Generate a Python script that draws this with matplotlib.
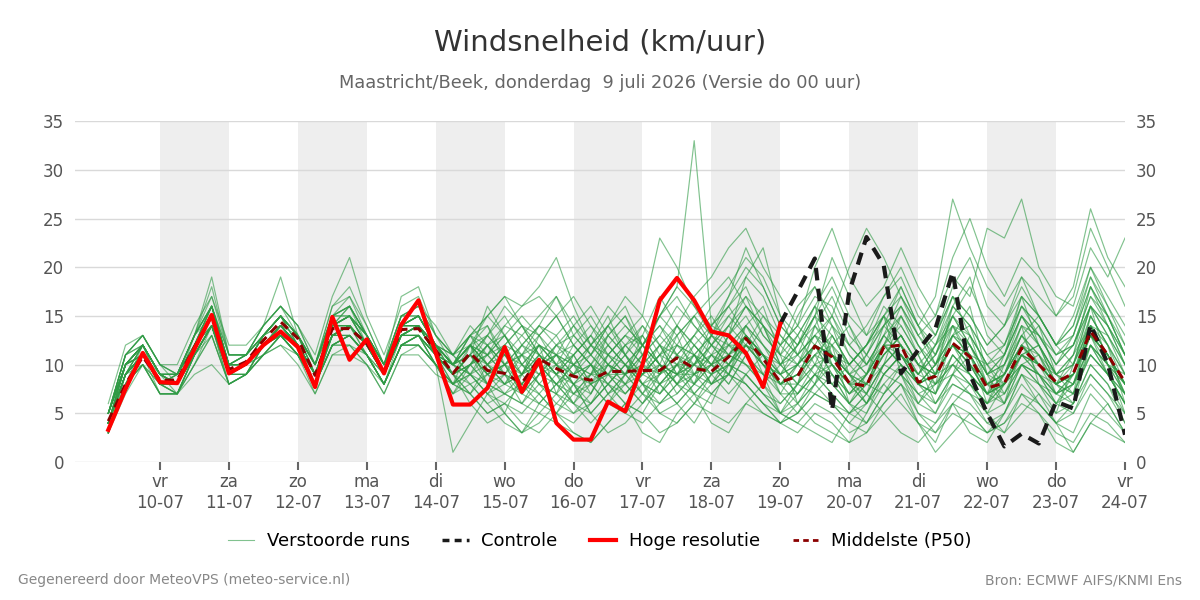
import numpy as np
import matplotlib
matplotlib.use("Agg")
import matplotlib.pyplot as plt
from matplotlib.lines import Line2D

# --- 1. Data (time in days since 9-07 00 UTC, 6-hourly from 9-07 06 UTC) ---
n_steps = 60
times = [0.25 + 0.25 * i for i in range(n_steps)]

day_ticks = [1, 2, 3, 4, 5, 6, 7, 8, 9, 10, 11, 12, 13, 14, 15]
day_labels = ["vr\n10-07", "za\n11-07", "zo\n12-07", "ma\n13-07", "di\n14-07",
              "wo\n15-07", "do\n16-07", "vr\n17-07", "za\n18-07", "zo\n19-07",
              "ma\n20-07", "di\n21-07", "wo\n22-07", "do\n23-07", "vr\n24-07"]
shaded_days = [1, 3, 5, 7, 9, 11, 13]

# high resolution run (first 40 steps, up to 19-07 00)
hires = [3.3, 7.5, 11.2, 8.2, 8.1, 11.6, 15.1, 9.1, 10.1, 12.0,
         13.4, 11.8, 7.7, 14.9, 10.5, 12.6, 9.1, 14.1, 16.6, 11.2,
         5.9, 5.9, 7.6, 11.8, 7.2, 10.5, 4.0, 2.3, 2.3, 6.2,
         5.2, 10.0, 16.6, 18.9, 16.6, 13.4, 13.0, 11.2, 7.7, 14.2]

# control run, shown from 19-07 00 onwards (steps 39..59)
control_start = 39
control = [14.2, 17.5, 20.9, 5.3, 17.5, 23.1, 20.2, 9.1, 11.5, 13.7,
           19.5, 9.0, 5.0, 1.6, 2.9, 1.9, 6.2, 5.5, 14.1, 10.1, 2.8]

# ensemble median
p50 = [4.2, 8.0, 10.8, 8.4, 8.4, 11.8, 15.0, 9.5, 10.3, 12.5,
       14.4, 12.7, 8.9, 13.7, 13.7, 12.2, 9.3, 13.6, 13.7, 11.5,
       9.1, 11.2, 9.4, 9.1, 8.1, 10.6, 9.6, 8.8, 8.4, 9.3,
       9.3, 9.4, 9.4, 10.7, 9.6, 9.3, 10.8, 12.7, 10.6, 8.2,
       8.8, 11.9, 10.8, 8.1, 7.8, 11.8, 12.0, 8.2, 8.8, 12.2,
       10.8, 7.6, 8.1, 11.7, 10.0, 8.2, 9.1, 13.4, 11.0, 8.2]

# perturbed members
members = [
    "5 10 12 9 8 13 16 10 11 13 15 13 10 15 16 13 10 14 15 12 10 12 8 7 6 9 12 10 7 11 13 11 8 9 12 10 13 15 12 9 7 10 14 9 6 10 15 11 7 13 16 9 6 12 14 9 7 15 12 6",
    "4 9 11 7 7 11 14 9 10 12 13 12 8 12 13 11 8 12 13 10 8 10 11 12 9 12 7 5 6 8 10 7 9 12 11 8 9 14 16 11 6 8 13 10 12 15 9 6 8 14 11 6 9 14 8 5 10 16 10 9",
    "3 8 10 8 9 13 18 11 11 14 16 14 10 16 18 14 10 15 16 14 11 13 10 8 11 14 13 10 12 15 11 8 7 10 8 13 16 18 14 10 12 15 10 7 9 13 17 14 10 12 9 7 11 15 13 10 12 17 15 11",
    "4 8 12 9 9 12 15 9 10 12 14 12 9 13 14 12 9 13 13 11 9 7 5 6 8 11 9 6 4 6 8 10 12 9 7 6 10 13 9 5 8 14 12 6 5 9 11 8 10 15 12 8 6 10 9 6 8 14 11 7",
    "5 11 13 10 8 12 14 10 10 11 13 11 8 12 12 11 8 12 12 10 7 9 8 10 12 10 8 10 11 9 7 9 12 14 12 10 8 11 9 7 10 12 9 6 8 11 13 10 6 9 13 10 7 11 12 8 6 12 10 5",
    "4 9 11 8 7 11 13 8 9 11 12 11 7 11 11 10 7 11 11 9 8 12 13 11 8 7 5 4 6 9 12 14 11 8 10 13 12 10 8 10 13 16 11 9 7 12 10 6 9 16 14 9 11 17 12 9 11 18 14 10",
    "6 12 13 10 10 14 17 12 12 14 16 14 11 17 21 15 11 16 17 13 10 11 9 8 7 10 11 9 10 12 10 8 9 11 13 15 12 14 11 8 9 11 10 8 11 14 12 9 11 14 10 8 9 13 11 7 9 15 12 8",
    "3 7 10 7 7 10 14 8 9 12 13 12 9 14 14 12 9 13 14 11 10 13 11 9 6 8 10 8 5 7 9 12 15 13 9 8 11 14 12 10 11 9 7 5 7 10 12 8 7 11 9 5 8 11 9 7 9 13 9 6",
    "5 10 12 9 9 12 16 10 11 13 15 13 10 15 15 13 10 14 15 12 9 6 4 5 9 12 10 7 9 13 15 12 10 9 8 11 14 17 13 11 10 12 15 11 9 14 16 12 9 10 8 6 10 13 10 8 11 14 13 9",
    "4 9 11 8 8 11 14 9 9 12 13 11 8 13 13 11 8 12 13 10 7 10 12 13 10 8 7 11 13 11 9 7 6 8 10 12 14 12 10 7 5 8 11 10 8 7 9 7 6 8 7 4 5 9 7 5 6 10 8 4",
    "4 10 12 8 8 12 15 9 10 13 15 12 9 14 14 12 9 14 14 12 11 14 12 10 11 13 15 12 10 8 6 5 8 10 7 9 10 13 11 8 10 13 15 12 10 13 11 8 10 13 11 8 10 14 13 10 12 16 13 10",
    "5 11 12 9 8 12 15 10 10 12 14 12 9 13 14 12 9 13 14 11 8 9 7 6 5 7 9 11 8 6 5 7 10 8 6 9 13 16 14 10 8 7 6 4 6 9 11 9 12 17 13 8 7 10 11 8 7 12 9 6",
    "3 8 11 8 7 11 14 9 10 12 14 12 8 13 14 11 8 13 13 11 9 11 10 12 14 13 10 8 7 10 12 13 10 7 9 11 10 9 7 6 8 10 9 7 9 12 14 11 8 10 12 9 8 12 10 7 8 13 11 7",
    "4 9 12 9 8 12 15 9 10 12 14 12 9 14 15 12 9 14 14 12 10 8 6 7 6 5 7 9 11 14 12 10 8 6 8 10 12 11 14 12 10 8 6 5 4 7 10 8 9 12 10 7 9 13 11 9 10 14 10 8",
    "5 10 11 8 9 13 16 11 11 13 15 13 10 15 16 13 10 15 15 12 10 12 14 11 9 10 8 6 8 11 9 11 13 16 14 12 10 12 10 9 11 13 11 9 10 13 15 12 10 14 12 9 11 16 14 11 13 18 15 12",
    "4 9 10 8 8 11 14 9 9 12 13 11 8 12 13 11 8 12 13 11 9 12 9 7 8 10 12 13 11 9 7 9 11 12 10 8 9 13 11 9 7 9 8 6 8 10 12 10 8 9 11 10 8 10 9 8 7 11 9 7",
    "3 9 11 9 7 11 14 9 10 11 13 11 8 12 13 11 8 12 12 10 8 10 8 5 3 6 8 6 9 12 14 12 9 11 13 11 9 12 15 12 14 12 10 8 6 9 11 9 11 15 12 9 10 15 12 8 10 14 12 9",
    "5 11 12 9 9 13 16 10 11 13 15 12 9 14 15 13 10 15 15 12 10 11 13 15 12 11 9 11 13 10 8 6 8 10 12 14 16 19 17 13 11 13 10 7 8 11 13 10 9 12 10 7 9 12 9 6 9 13 11 8",
    "4 9 11 8 8 12 15 9 10 12 14 12 8 13 14 12 9 13 14 11 9 7 10 12 11 9 8 7 9 8 6 8 10 9 11 13 11 10 8 6 8 11 13 10 12 15 12 8 7 10 8 6 8 11 10 9 8 12 10 8",
    "4 10 12 8 9 12 14 9 10 12 14 12 9 13 13 11 9 13 13 11 10 9 7 8 10 12 11 9 12 14 11 8 7 9 10 12 11 13 10 8 9 12 11 9 7 10 9 7 8 11 9 7 6 10 8 7 8 12 9 6",
    "5 11 13 10 9 13 17 11 11 14 19 13 10 15 17 13 10 15 16 13 11 13 15 17 14 12 10 13 15 12 10 12 15 18 16 14 17 20 18 14 12 16 19 15 13 17 20 16 13 18 21 16 14 19 15 12 14 20 16 12",
    "3 8 10 7 7 9 10 8 9 11 12 10 7 11 12 10 7 11 12 10 7 8 6 4 3 5 4 3 2 4 6 5 3 4 6 5 4 6 8 5 4 6 5 3 4 7 9 5 3 5 4 3 4 6 5 3 2 5 4 2",
    "4 10 12 9 8 12 16 10 10 13 15 13 9 14 16 12 9 14 15 12 9 11 16 13 10 9 11 14 12 10 9 13 17 14 11 10 13 16 14 11 15 18 14 11 9 12 16 13 11 15 18 14 12 16 13 10 13 19 15 11",
    "5 10 11 8 8 11 14 9 10 12 14 12 9 13 14 12 9 13 14 11 8 7 9 10 8 6 5 8 10 7 5 4 6 8 9 7 6 9 7 5 6 4 3 2 5 8 6 4 3 6 5 3 5 9 6 4 3 7 5 3",
    "4 9 12 9 9 13 15 10 10 13 15 13 10 14 15 13 10 14 14 12 10 12 11 14 16 17 15 12 10 9 11 14 12 10 13 16 18 21 19 15 13 10 8 10 12 15 17 13 10 13 14 11 9 13 15 12 10 16 14 10",
    "3 8 11 8 7 11 14 9 9 11 13 11 8 13 13 11 8 12 13 11 9 10 8 9 11 8 6 5 7 10 8 6 9 13 15 12 10 8 6 5 7 9 12 14 11 9 8 6 5 8 7 6 8 11 9 7 6 10 8 5",
    "4 9 11 8 8 12 15 9 10 12 14 12 9 14 15 12 9 14 14 12 11 9 7 9 12 14 17 14 11 13 15 11 9 12 15 13 11 10 9 12 14 17 16 12 10 13 11 9 12 15 13 10 12 16 14 11 12 17 14 11",
    "5 10 12 9 8 12 16 10 10 13 15 13 9 14 15 13 10 14 15 12 10 13 14 10 7 6 8 10 8 6 9 12 14 11 8 7 9 12 10 8 6 8 10 8 6 8 10 7 5 9 8 6 7 10 8 6 5 9 7 4",
    "4 9 11 8 8 11 14 9 10 12 14 12 9 13 14 12 9 13 13 11 9 11 9 11 13 11 9 10 12 14 16 12 10 8 11 9 7 9 11 9 10 14 17 13 11 14 18 14 11 16 19 13 11 15 12 9 11 16 13 10",
    "3 8 10 7 7 10 13 8 9 11 13 11 8 12 13 11 8 12 12 10 8 10 12 10 7 9 11 8 6 8 10 8 6 7 9 11 9 8 6 4 5 7 6 4 3 6 8 5 4 7 6 4 3 7 6 4 5 8 6 3",
    "5 11 13 10 9 13 19 11 11 14 16 14 10 16 17 14 10 15 16 13 11 12 10 8 9 13 15 17 14 11 13 15 12 9 10 14 16 13 11 9 12 15 13 10 12 16 14 11 13 17 15 12 14 18 15 12 14 19 16 13",
    "4 10 11 8 8 12 15 9 10 12 14 12 9 13 14 12 9 13 14 11 10 9 11 13 10 8 7 6 5 7 9 7 5 6 8 10 9 7 5 4 6 9 7 5 6 9 11 8 6 9 7 5 6 9 8 6 7 11 9 6",
    "4 9 12 9 8 12 15 10 10 12 14 12 9 14 14 12 9 14 14 12 10 12 15 13 11 10 12 14 16 13 11 9 11 14 12 10 8 11 9 8 10 12 9 7 9 11 13 10 9 12 10 8 9 12 10 8 9 13 11 8",
    "5 10 12 9 9 12 16 10 11 13 15 13 10 14 16 13 10 14 15 12 9 11 8 7 9 11 9 7 8 10 12 10 7 9 11 8 10 13 11 8 9 11 8 6 9 12 10 8 10 13 11 8 9 12 10 8 9 13 10 7",
    "4 9 11 8 8 11 14 9 10 12 14 12 9 13 14 11 9 13 14 11 9 10 11 9 7 9 10 11 8 9 11 13 10 8 7 9 12 14 12 10 8 10 11 8 9 12 10 8 7 11 9 7 8 11 12 9 8 12 10 7",
    "3 9 11 8 8 11 14 9 9 12 13 11 8 12 13 11 8 12 13 10 8 9 10 11 9 10 8 9 10 8 7 9 11 10 9 10 11 13 11 7 7 9 10 8 7 10 12 9 8 10 9 7 8 10 9 7 8 11 9 7",
    "5 10 12 9 8 12 15 10 10 13 14 13 9 14 15 12 9 14 15 12 10 11 9 10 11 12 11 10 9 10 9 10 12 11 10 11 12 12 10 9 10 12 11 9 8 11 13 10 9 12 11 8 9 12 11 8 9 14 11 8",
    "4 9 11 8 8 12 15 9 10 12 14 12 9 13 14 12 9 13 13 11 9 10 12 9 8 10 9 8 9 11 10 9 8 10 11 9 10 12 11 8 9 11 12 9 8 12 11 8 9 12 10 7 8 11 10 8 9 13 11 8",
    "4 10 11 8 8 12 14 9 10 12 14 12 9 13 14 12 9 13 14 11 9 8 9 10 9 11 10 9 8 9 9 10 9 10 10 9 11 13 10 8 8 12 11 8 8 12 12 8 9 12 11 8 8 11 10 8 9 13 11 8",
    "5 10 12 9 9 12 15 10 10 13 15 12 9 14 14 12 9 14 14 12 10 12 10 9 8 10 11 10 9 9 8 9 10 9 9 10 11 12 11 8 9 12 11 8 8 12 12 8 9 12 11 7 8 12 10 8 9 14 11 8",
    "4 9 12 9 8 12 15 10 10 13 14 12 9 14 15 12 9 13 14 11 10 12 10 12 14 11 13 15 12 10 9 11 15 18 33 14 13 19 22 15 11 15 18 14 10 12 15 12 9 13 12 9 10 14 12 9 10 15 12 9",
    "5 11 13 10 9 13 16 11 11 14 16 13 10 15 16 13 10 17 18 13 11 9 12 14 13 15 17 13 11 14 17 15 23 20 16 13 17 22 18 14 12 15 21 17 13 15 18 14 12 16 14 11 12 17 15 12 13 18 15 11",
    "3 8 10 7 7 10 13 8 9 11 13 11 8 12 12 10 8 12 12 10 1 4 7 5 3 4 6 8 5 3 4 6 8 6 4 7 9 8 6 4 5 7 9 6 4 6 8 4 2 6 8 5 3 5 7 4 1 4 6 3",
    "4 10 12 9 8 12 15 10 10 13 15 13 9 14 15 12 9 13 14 12 10 13 15 17 16 18 21 16 12 11 13 12 10 14 17 19 22 24 20 17 14 20 24 19 16 18 22 18 15 21 25 20 17 21 19 15 17 24 20 16",
    "5 10 11 8 9 12 15 9 10 12 14 12 9 13 14 12 9 13 14 11 9 11 13 11 10 12 10 8 10 13 11 9 11 13 15 17 19 16 14 12 16 18 15 20 24 21 17 14 17 27 22 18 16 19 17 15 18 26 21 18",
    "4 9 11 8 8 11 14 9 10 12 14 12 9 14 14 12 9 13 14 11 10 12 11 13 15 13 11 12 14 12 10 12 14 12 11 13 15 17 15 13 11 13 12 10 12 14 16 13 15 19 17 24 23 27 20 17 16 22 19 23",
    "4 10 12 9 8 12 16 10 11 13 15 13 10 15 16 13 10 14 15 12 10 12 10 8 9 7 5 3 2 4 6 3 2 5 7 4 3 6 5 4 3 5 4 2 3 5 7 4 1 3 5 3 4 7 5 2 1 4 3 2",
    "5 10 12 9 9 13 16 10 11 13 15 13 10 15 15 13 10 14 15 12 11 13 12 10 12 14 12 11 13 16 14 12 15 17 14 12 14 16 13 11 13 16 14 12 14 17 19 15 13 17 15 12 14 17 15 12 15 20 17 14",
    "3 8 11 8 7 11 14 8 9 12 13 11 8 12 13 11 8 12 13 10 8 7 5 6 4 3 5 7 6 8 10 8 5 4 6 8 10 9 7 5 4 3 2 5 7 5 3 2 4 6 3 2 5 8 6 4 6 9 7 5",
    "4 9 11 8 8 12 15 9 10 12 14 12 9 13 14 12 9 13 14 11 9 10 13 16 14 11 9 12 10 7 8 11 13 11 9 12 15 13 11 10 12 14 11 9 11 15 13 10 12 14 13 10 11 15 13 11 12 16 14 11",
]
ensemble = [[float(v) for v in m.split()] for m in members]

# --- 2. Figure ---
fig = plt.figure(figsize=(12, 6), dpi=100)
ax = fig.add_axes([0.0625, 0.23, 0.875, 0.568])

for d in shaded_days:
    ax.axvspan(d, d + 1, color="#eeeeee", zorder=0, lw=0)

for m in ensemble:
    ax.plot(times, m, color="#2e9a44", alpha=0.6, lw=0.85, zorder=2)

ax.plot(times[control_start:], control, color="#1a1a1a", lw=3,
        dashes=(3, 2), zorder=4)
ax.plot(times, p50, color="#8b0000", lw=2.2, dashes=(3, 2), zorder=5)
ax.plot(times[:len(hires)], hires, color="#ff0000", lw=3, zorder=6)

ax.set_xlim(-0.233, 15)
ax.set_ylim(0, 35)
ax.set_yticks(range(0, 36, 5))
ax.set_xticks(day_ticks)
ax.set_xticklabels(day_labels)
ax.grid(axis="y", color="#d9d9d9", lw=1, zorder=1)
ax.set_axisbelow(True)
for s in ax.spines.values():
    s.set_visible(False)
ax.tick_params(axis="y", length=0, labelsize=12, labelcolor="#555555",
               labelright=True, pad=8)
ax.tick_params(axis="x", length=6, width=1.5, color="#666666",
               labelsize=12, labelcolor="#555555", pad=2)

# --- 3. Titles, legend, footer ---
fig.text(0.5, 0.93, "Windsnelheid (km/uur)", ha="center", va="center",
         fontsize=21, color="#333333")
fig.text(0.5, 0.861, "Maastricht/Beek, donderdag  9 juli 2026 (Versie do 00 uur)",
         ha="center", va="center", fontsize=12.8, color="#666666")

handles = [
    Line2D([], [], color="#2e9a44", alpha=0.6, lw=0.8),
    Line2D([], [], color="#1a1a1a", lw=2.5, dashes=(2, 1.5)),
    Line2D([], [], color="#ff0000", lw=3),
    Line2D([], [], color="#8b0000", lw=2, dashes=(2, 1.5)),
]
labels = ["Verstoorde runs", "Controle", "Hoge resolutie", "Middelste (P50)"]
fig.legend(handles, labels, loc="center", bbox_to_anchor=(0.5, 0.098), ncol=4,
           frameon=False, fontsize=13, handlelength=1.45, handletextpad=0.7,
           columnspacing=1.8)

fig.text(0.015, 0.033, "Gegenereerd door MeteoVPS (meteo-service.nl)",
         ha="left", va="center", fontsize=10, color="#888888")
fig.text(0.985, 0.033, "Bron: ECMWF AIFS/KNMI Ens",
         ha="right", va="center", fontsize=10, color="#888888")

fig.savefig("out.png", dpi=100)
